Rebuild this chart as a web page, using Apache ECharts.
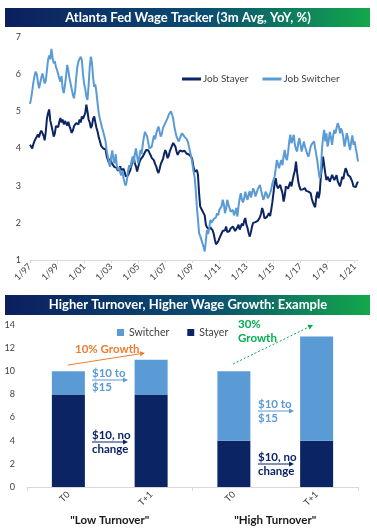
<!DOCTYPE html>
<html>
<head>
<meta charset="utf-8">
<script src="https://cdn.jsdelivr.net/npm/echarts@6/dist/echarts.min.js"></script>
<style>
  html, body { margin: 0; padding: 0; background: #fff; }
  #chart { width: 377px; height: 532px; }
</style>
</head>
<body>
<div id="chart"></div>
<script>
// monthly labels 1/97 .. 4/21
const months = [];
for (let y = 1997; y <= 2021; y++) {
  for (let m = 1; m <= 12; m++) {
    if (y === 2021 && m > 4) break;
    months.push(m + '/' + String(y).slice(2));
  }
}

// Job Stayer, 3m avg yoy %, one row per year
const stayer = [].concat(
  [4.10, 4.08, 4.00, 4.12, 4.20, 4.25, 4.32, 4.38, 4.30, 4.42, 4.48, 4.50],
  [4.35, 4.22, 4.45, 4.80, 4.95, 5.05, 4.75, 4.62, 4.48, 4.32, 4.40, 4.60],
  [4.65, 4.58, 4.72, 4.82, 4.70, 4.78, 4.65, 4.74, 4.70, 4.62, 4.72, 4.60],
  [4.52, 4.42, 4.48, 4.60, 4.55, 4.68, 4.72, 4.65, 4.78, 4.70, 4.86, 4.80],
  [4.82, 4.95, 5.18, 5.00, 4.78, 4.70, 4.55, 4.62, 4.80, 4.86, 4.70, 4.55],
  [4.45, 4.30, 4.20, 4.08, 4.12, 4.00, 3.95, 3.98, 3.80, 3.70, 3.62, 3.72],
  [3.68, 3.58, 3.62, 3.50, 3.45, 3.48, 3.40, 3.46, 3.52, 3.42, 3.40, 3.45],
  [3.36, 3.25, 3.20, 3.28, 3.35, 3.42, 3.55, 3.70, 3.78, 3.60, 3.52, 3.38],
  [3.50, 3.62, 3.70, 3.66, 3.78, 3.82, 3.90, 3.96, 3.92, 3.95, 3.88, 3.82],
  [3.75, 3.70, 3.68, 3.58, 3.52, 3.40, 3.34, 3.45, 3.58, 3.65, 3.72, 3.85],
  [3.96, 3.88, 3.74, 3.80, 3.92, 4.00, 4.08, 4.15, 4.19, 4.05, 3.92, 3.83],
  [3.88, 3.95, 3.98, 3.92, 3.96, 3.94, 3.90, 3.86, 3.88, 3.84, 3.80, 3.78],
  [3.70, 3.52, 3.38, 3.35, 3.42, 3.30, 2.80, 2.44, 2.40, 2.32, 2.26, 2.20],
  [1.95, 1.88, 1.86, 1.82, 1.88, 1.90, 1.80, 1.70, 1.55, 1.42, 1.40, 1.50],
  [1.58, 1.65, 1.72, 1.78, 1.82, 1.80, 1.90, 1.75, 1.72, 1.78, 1.85, 1.88],
  [1.90, 1.85, 1.78, 1.80, 1.88, 1.95, 1.82, 1.90, 1.98, 1.92, 2.05, 2.13],
  [1.95, 1.86, 1.72, 1.63, 1.75, 1.90, 2.00, 1.96, 2.02, 2.00, 2.05, 2.08],
  [2.15, 2.25, 2.40, 2.30, 2.12, 2.08, 2.15, 2.20, 2.26, 2.18, 2.35, 2.55],
  [2.80, 3.05, 3.20, 3.00, 2.93, 2.98, 3.02, 2.90, 2.80, 2.57, 2.72, 2.98],
  [3.00, 2.92, 3.02, 3.10, 2.98, 3.15, 3.29, 3.40, 3.65, 3.35, 3.11, 2.98],
  [2.89, 2.85, 2.90, 2.88, 2.93, 2.86, 2.90, 2.84, 2.88, 2.80, 2.65, 2.55],
  [2.48, 2.42, 2.70, 2.84, 2.66, 2.80, 3.24, 3.50, 3.78, 3.55, 3.33, 3.15],
  [3.24, 3.18, 3.11, 3.20, 3.29, 3.22, 3.15, 3.20, 3.28, 3.12, 3.05, 2.98],
  [3.10, 3.24, 3.18, 3.35, 3.47, 3.40, 3.29, 3.32, 3.24, 3.26, 3.10, 2.98],
  [2.93, 2.96, 3.05, 3.11]
);

// Job Switcher
const switcher = [].concat(
  [5.20, 5.35, 5.55, 5.78, 5.95, 6.07, 6.00, 5.80, 5.62, 5.75, 5.90, 6.02],
  [5.90, 5.75, 5.82, 6.10, 6.38, 6.50, 6.40, 6.68, 6.45, 6.29, 6.35, 6.20],
  [6.11, 6.00, 5.88, 5.80, 5.95, 5.60, 5.49, 5.70, 5.95, 6.25, 6.10, 5.90],
  [5.75, 5.60, 5.45, 5.35, 5.55, 5.90, 6.20, 6.34, 6.30, 6.47, 6.38, 6.00],
  [5.75, 5.60, 5.40, 5.31, 5.70, 6.20, 6.47, 6.30, 5.90, 5.66, 5.72, 5.49],
  [5.20, 4.95, 4.80, 4.68, 4.55, 4.45, 4.32, 4.20, 3.95, 3.80, 3.60, 3.51],
  [3.78, 3.95, 3.70, 3.60, 3.85, 3.55, 3.42, 3.50, 3.35, 3.28, 3.40, 3.20],
  [3.07, 3.00, 3.15, 3.40, 3.55, 3.48, 3.65, 3.78, 3.60, 3.85, 4.00, 3.96],
  [3.60, 3.75, 3.96, 3.85, 4.10, 4.30, 4.45, 4.38, 4.32, 4.14, 4.00, 3.96],
  [4.05, 4.20, 4.35, 4.25, 4.41, 4.50, 4.59, 4.45, 4.32, 4.40, 4.55, 4.62],
  [4.68, 4.75, 4.81, 4.90, 4.95, 5.00, 4.92, 4.81, 4.60, 4.45, 4.32, 4.25],
  [4.19, 4.28, 4.35, 4.41, 4.38, 4.32, 4.36, 4.25, 4.19, 4.05, 3.92, 3.78],
  [3.60, 3.40, 3.24, 2.90, 2.44, 2.10, 1.72, 1.65, 1.60, 1.45, 1.35, 1.23],
  [1.50, 1.81, 1.70, 1.85, 2.08, 2.00, 1.99, 2.10, 2.05, 2.15, 2.26, 2.20],
  [2.35, 2.30, 2.45, 2.62, 2.50, 2.26, 2.38, 2.62, 2.50, 2.40, 2.30, 2.25],
  [2.35, 2.20, 2.28, 2.40, 2.17, 2.45, 2.65, 2.80, 2.62, 2.55, 2.66, 2.84],
  [2.70, 2.62, 2.78, 2.85, 2.68, 2.80, 2.93, 2.85, 2.71, 2.80, 2.90, 2.95],
  [3.02, 2.88, 2.75, 2.62, 2.70, 2.84, 2.78, 2.66, 2.72, 2.80, 2.90, 3.05],
  [3.15, 3.24, 3.45, 3.69, 3.58, 3.47, 3.60, 3.69, 3.55, 3.80, 3.96, 3.75],
  [3.69, 3.90, 4.20, 4.37, 4.14, 4.25, 4.37, 4.10, 3.98, 3.92, 4.15, 4.28],
  [4.10, 3.92, 4.05, 4.19, 4.05, 3.95, 3.85, 3.78, 3.90, 4.05, 4.12, 4.15],
  [4.19, 4.00, 3.83, 3.65, 3.40, 3.20, 3.35, 3.96, 4.30, 4.50, 4.19, 4.41],
  [4.05, 4.20, 4.45, 4.30, 4.10, 4.35, 4.50, 4.40, 4.55, 4.68, 4.60, 4.41],
  [4.54, 4.45, 4.30, 4.05, 4.20, 4.41, 4.30, 4.10, 3.96, 4.19, 4.35, 4.10],
  [4.19, 4.00, 3.85, 3.65]
);

// bottom example chart
const periods = ['T0', 'T+1', 'T0', 'T+1'];
const groups = ['"Low Turnover"', '"High Turnover"'];
const stayerPay = [8, 8, 4, 4];
const switcherPay = [2, 3, 6, 9];

const NAVY = '#0b2463';
const LIGHT = '#5b9bd5';
const ORANGE = '#ed7d31';
const GREEN = '#00b050';
const FONT = 'Lato, "Open Sans", sans-serif';

function headerBar(y, h, text) {
  return [{
    type: 'rect',
    shape: { x: 5, y: y, width: 365, height: h },
    style: {
      fill: new echarts.graphic.LinearGradient(0, 0, 1, 0, [
        { offset: 0, color: '#0c1f5e' },
        { offset: 0.55, color: '#0b4d72' },
        { offset: 1, color: '#12a84c' }
      ])
    }
  }, {
    type: 'text',
    x: 188, y: y + h / 2,
    style: {
      text: text, fill: '#fff', font: 'bold 13px ' + FONT,
      align: 'center', verticalAlign: 'middle'
    }
  }];
}

function arrow(x1, y1, x2, y2, color, dash) {
  const a = Math.atan2(y2 - y1, x2 - x1);
  const L = 5, W = 2.6;
  const c = Math.cos(a), s = Math.sin(a);
  return [{
    type: 'line',
    shape: { x1: x1, y1: y1, x2: x2 - L * c, y2: y2 - L * s },
    style: { stroke: color, lineWidth: 1, lineDash: dash || null }
  }, {
    type: 'polygon',
    shape: { points: [[x2, y2], [x2 - L * c + W * s, y2 - L * s - W * c], [x2 - L * c - W * s, y2 - L * s + W * c]] },
    style: { fill: color }
  }];
}

function note(x, y, text, color) {
  return {
    type: 'text', x: x, y: y,
    style: { text: text, fill: color, font: 'bold 11.5px ' + FONT, lineHeight: 14, verticalAlign: 'top' }
  };
}

const graphics = [].concat(
  headerBar(8, 19, 'Atlanta Fed Wage Tracker (3m Avg, YoY, %)'),
  headerBar(295, 20, 'Higher Turnover, Higher Wage Growth: Example'),
  note(75, 342, '10% Growth', ORANGE),
  arrow(68, 365, 145, 353, ORANGE),
  note(238, 317, '30%\nGrowth', GREEN),
  arrow(233, 364, 313, 325, GREEN, [2, 2]),
  note(92, 366, '$10 to\n$15', LIGHT),
  arrow(92, 380, 128, 380, LIGHT),
  note(92, 428, '$10, no\nchange', NAVY),
  arrow(92, 442, 128, 442, NAVY),
  note(258, 397, '$10 to\n$15', LIGHT),
  arrow(258, 411, 294, 411, LIGHT),
  note(258, 450, '$10, no\nchange', NAVY),
  arrow(258, 464, 294, 464, NAVY)
);

const chart = echarts.init(document.getElementById('chart'), null, { renderer: 'canvas' });

chart.setOption({
  animation: false,
  backgroundColor: '#fff',
  textStyle: { fontFamily: FONT },
  legend: [{
    data: ['Job Stayer', 'Job Switcher'],
    left: 177, top: 69,
    icon: 'rect', itemWidth: 19, itemHeight: 3, itemGap: 14,
    textStyle: { fontSize: 10, color: '#404040', padding: [0, 0, 0, -3] }
  }, {
    data: ['Switcher', 'Stayer'],
    left: 112, top: 322,
    icon: 'rect', itemWidth: 7, itemHeight: 7, itemGap: 18,
    textStyle: { fontSize: 10.5, color: '#404040' }
  }],
  grid: [
    { left: 30, right: 19, top: 37, height: 223 },
    { left: 27, right: 19, top: 325, height: 162 }
  ],
  xAxis: [{
    gridIndex: 0, type: 'category', data: months, boundaryGap: false,
    axisLine: { lineStyle: { color: '#d9d9d9' } },
    axisTick: { interval: 23, length: 3, lineStyle: { color: '#d9d9d9' } },
    axisLabel: { interval: 23, rotate: 45, fontSize: 9, color: '#404040', margin: 5 }
  }, {
    gridIndex: 1, type: 'category', data: periods,
    axisLine: { lineStyle: { color: '#d9d9d9' } },
    axisTick: { show: false },
    axisLabel: { rotate: 45, fontSize: 9, color: '#404040', margin: 6 }
  }, {
    gridIndex: 1, type: 'category', data: groups, position: 'bottom',
    axisLine: { show: false },
    axisTick: { show: true, length: 4, lineStyle: { color: '#d9d9d9' } },
    axisLabel: { fontSize: 11.5, fontWeight: 'bold', color: '#1a1a1a', margin: 27 }
  }],
  yAxis: [{
    gridIndex: 0, type: 'value', min: 1, max: 7, interval: 1,
    axisLine: { show: false }, axisTick: { show: false }, splitLine: { show: false },
    axisLabel: { fontSize: 9, color: '#404040', margin: 9 }
  }, {
    gridIndex: 1, type: 'value', min: 0, max: 14, interval: 2,
    axisLine: { show: false }, axisTick: { show: false }, splitLine: { show: false },
    axisLabel: { fontSize: 9, color: '#404040', margin: 12 }
  }],
  series: [{
    name: 'Job Stayer', type: 'line', xAxisIndex: 0, yAxisIndex: 0,
    data: stayer, showSymbol: false, symbol: 'none',
    lineStyle: { color: NAVY, width: 2 }, itemStyle: { color: NAVY }
  }, {
    name: 'Job Switcher', type: 'line', xAxisIndex: 0, yAxisIndex: 0,
    data: switcher, showSymbol: false, symbol: 'none',
    lineStyle: { color: LIGHT, width: 2 }, itemStyle: { color: LIGHT }
  }, {
    name: 'Stayer', type: 'bar', xAxisIndex: 1, yAxisIndex: 1, stack: 'pay',
    data: stayerPay, barWidth: 33, itemStyle: { color: NAVY }
  }, {
    name: 'Switcher', type: 'bar', xAxisIndex: 1, yAxisIndex: 1, stack: 'pay',
    data: switcherPay, barWidth: 33, itemStyle: { color: LIGHT }
  }],
  graphic: graphics
});
</script>
</body>
</html>
